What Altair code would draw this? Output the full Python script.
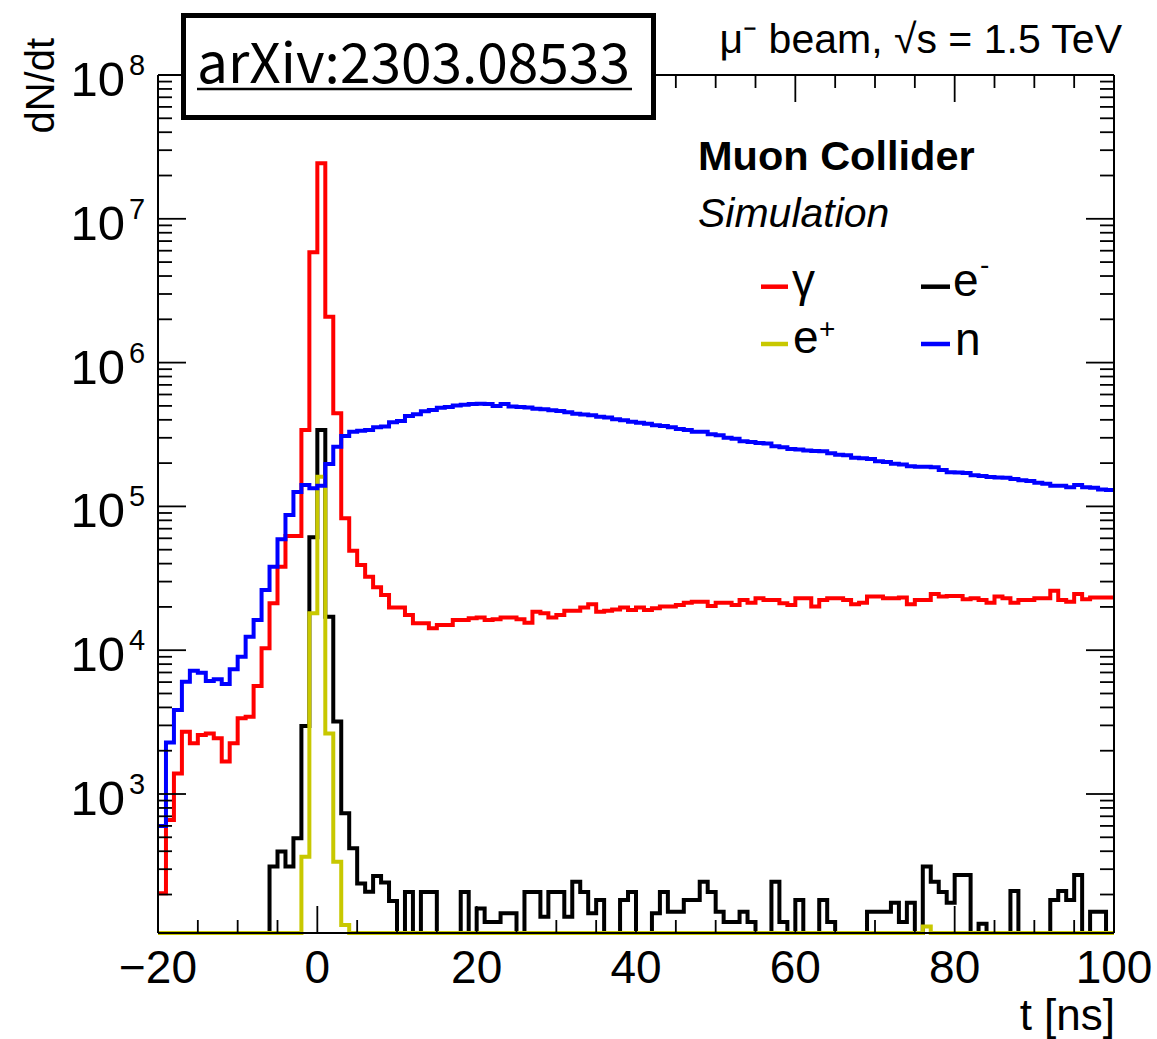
import altair as alt
import pandas as pd

# ---------------- data (bin left edges, 1 ns bins from -20 to 100) ----------------
T_EDGES = list(range(-20, 100))

GAMMA = [204, 659, 1390, 2710, 2250, 2570, 2640, 2440, 1680, 2250,
         3360, 3450, 5640, 10300, 21200, 38100, 62200, 62200, 340000, 5850000,
         24300000, 2080000, 444000, 82600, 49200, 39200, 32400, 27400, 24200, 19800,
         19800, 17600, 15400, 15400, 14200, 15000, 15000, 16200, 16200, 16700,
         16900, 16200, 16400, 16900, 16900, 16400, 15500, 18500, 18100, 16900,
         17600, 18800, 18800, 19800, 20900, 18500, 18800, 19200, 19800, 19000,
         19800, 19000, 19600, 20100, 20100, 20600, 21400, 21700, 21700, 20300,
         21400, 21400, 20600, 22300, 21400, 23000, 22300, 22300, 21200, 20600,
         23000, 23000, 20100, 22300, 23000, 23000, 22300, 20900, 21400, 23600,
         23600, 23000, 23000, 23300, 20900, 22300, 22300, 24600, 23600, 23800,
         23800, 22600, 23000, 22300, 21400, 23600, 23000, 21400, 22300, 22300,
         23000, 23000, 25900, 22300, 21700, 24600, 22600, 23300, 23300, 23300]

NEUTRON = [598, 2280, 3840, 6040, 7200, 6970, 6110, 6280, 5830, 7360,
           9010, 12400, 16200, 26200, 38100, 59000, 87000, 126000, 141000, 134000,
           139000, 197000, 260000, 309000, 330000, 336000, 340000, 355000, 360000, 385000,
           392000, 425000, 438000, 458000, 468000, 485000, 492000, 503000, 510000, 516000,
           518000, 516000, 499000, 516000, 496000, 492000, 488000, 478000, 474000, 466000,
           460000, 452000, 440000, 435000, 430000, 421000, 415000, 404000, 398000, 388000,
           382000, 375000, 366000, 362000, 355000, 345000, 340000, 330000, 330000, 318000,
           312000, 300000, 296000, 284000, 280000, 276000, 274000, 262000, 258000, 251000,
           249000, 245000, 243000, 242000, 234000, 229000, 227000, 218000, 216000, 214000,
           206000, 204000, 198000, 196000, 190000, 189000, 189000, 187000, 179000, 173000,
           172000, 171000, 165000, 163000, 160000, 159000, 158000, 155000, 152000, 150000,
           146000, 144000, 139000, 139000, 136000, 141000, 136000, 135000, 131000, 130000]

ELECTRON = ([0] * 14 +
            [313, 398, 313, 492, 2970, 61000, 340000, 17100, 3190, 735,
             419, 239, 209, 269, 242, 180] +
            [0, 208, 0, 208, 208, 0, 0, 0, 208, 0,
             160, 129, 129, 148, 148, 0, 208, 208, 140, 208,
             208, 140, 245, 208, 148, 183, 0, 0, 183, 208,
             0, 0, 148, 208, 152, 152, 183, 183, 245, 208,
             152, 129, 129, 152, 129, 0, 0, 245, 129, 0,
             183, 0, 0, 183, 129, 0, 0, 0, 0, 152,
             152, 152, 175, 129, 175, 0, 313, 245, 208, 175,
             273, 273, 0, 125, 0, 0, 0, 212, 0, 0,
             0, 0, 183, 212, 183, 273, 0, 152, 152, 0])

POSITRON = [0] * 18 + [366, 18100, 161000, 2640, 338, 123] + [0] * 72 + [120] + [0] * 23

assert len(GAMMA) == len(NEUTRON) == len(ELECTRON) == len(POSITRON) == 120

X_MAJOR = [-20, 0, 20, 40, 60, 80, 100]
X_LABELS = ["\u221220", "0", "20", "40", "60", "80", "100"]
X_MINOR = [t for t in range(-20, 101, 5) if t % 20 != 0]
Y_MAJOR = [1e3, 1e4, 1e5, 1e6, 1e7, 1e8]
Y_EXP = ["3", "4", "5", "6", "7", "8"]
Y_MINOR = [k * 10 ** n for n in range(2, 8) for k in range(2, 10) if k * 10 ** n >= 108]

# ---------------- geometry / style ----------------
W, H = 956, 858
YMIN, YMAX = 108, 1e8
FONT = "Liberation Sans"

xs = alt.Scale(domain=[-20, 100], nice=False, zero=False)
ys = alt.Scale(type="log", domain=[YMIN, YMAX], nice=False, clamp=True)
one = pd.DataFrame({"k": [0]})


def hist_df(vals):
    floor = YMIN * 0.5
    t = T_EDGES + [100]
    v = [max(x, floor) for x in vals] + [max(vals[-1], floor)]
    return pd.DataFrame({"t": t, "v": v, "i": list(range(len(t)))})


def hist(vals, color):
    return alt.Chart(hist_df(vals)).mark_line(
        interpolate="step-after", strokeWidth=4, color=color,
        strokeJoin="miter", strokeCap="butt"
    ).encode(
        x=alt.X("t:Q", scale=xs, axis=None),
        y=alt.Y("v:Q", scale=ys, axis=None),
        order=alt.Order("i:Q"),
    )


def frame_rule(x, x2, y, y2):
    return alt.Chart(one).mark_rule(color="black", strokeWidth=2).encode(
        x=alt.value(x), x2=alt.value(x2), y=alt.value(y), y2=alt.value(y2))


def xticks(vals, length):
    d = pd.DataFrame({"t": vals})
    bot = alt.Chart(d).mark_rule(color="black", strokeWidth=1.8).encode(
        x=alt.X("t:Q", scale=xs, axis=None), y=alt.value(H), y2=alt.value(H - length))
    top = alt.Chart(d).mark_rule(color="black", strokeWidth=1.8).encode(
        x=alt.X("t:Q", scale=xs, axis=None), y=alt.value(0), y2=alt.value(length))
    return [bot, top]


def yticks(vals, length):
    d = pd.DataFrame({"v": vals})
    left = alt.Chart(d).mark_rule(color="black", strokeWidth=1.8).encode(
        y=alt.Y("v:Q", scale=ys, axis=None), x=alt.value(0), x2=alt.value(length))
    right = alt.Chart(d).mark_rule(color="black", strokeWidth=1.8).encode(
        y=alt.Y("v:Q", scale=ys, axis=None), x=alt.value(W), x2=alt.value(W - length))
    return [left, right]


def txt(text, x, y, size, align="left", font=FONT, weight="normal", style="normal", angle=0):
    return alt.Chart(one).mark_text(
        text=text, align=align, baseline="alphabetic", fontSize=size, font=font,
        fontWeight=weight, fontStyle=style, angle=angle, color="black"
    ).encode(x=alt.value(x), y=alt.value(y))


def leg_line(x, x2, y, color):
    return alt.Chart(one).mark_rule(color=color, strokeWidth=4.5).encode(
        x=alt.value(x), x2=alt.value(x2), y=alt.value(y))


layers = []
# histograms
layers += [hist(GAMMA, "#ff0000"), hist(ELECTRON, "#000000"),
           hist(POSITRON, "#c8c800"), hist(NEUTRON, "#0000ff")]
# frame
layers += [frame_rule(0, W, 0, 0), frame_rule(0, W, H, H),
           frame_rule(0, 0, 0, H), frame_rule(W, W, 0, H)]
# ticks
layers += xticks(X_MAJOR, 27) + xticks(X_MINOR, 13)
layers += yticks(Y_MAJOR, 28) + yticks(Y_MINOR, 14)

# x tick labels
xlab = pd.DataFrame({"t": X_MAJOR, "lab": X_LABELS})
layers.append(alt.Chart(xlab).mark_text(
    align="center", baseline="alphabetic", fontSize=46, font=FONT, color="black"
).encode(x=alt.X("t:Q", scale=xs, axis=None), y=alt.value(H + 50), text="lab:N"))

# y tick labels: "10" plus exponent
ylab = pd.DataFrame({"v": Y_MAJOR, "e": Y_EXP})
layers.append(alt.Chart(ylab).mark_text(
    text="10", align="right", baseline="alphabetic", fontSize=49, font=FONT, dy=21, color="black"
).encode(x=alt.value(-33), y=alt.Y("v:Q", scale=ys, axis=None)))
layers.append(alt.Chart(ylab).mark_text(
    align="left", baseline="alphabetic", fontSize=29, font=FONT, dy=0, color="black"
).encode(x=alt.value(-29), y=alt.Y("v:Q", scale=ys, axis=None), text="e:N"))

# axis titles
layers.append(txt("dN/dt", -104, -37, 40, align="right", angle=270))
layers.append(txt("t [ns]", 957, 955, 44, align="right"))

# arXiv box
layers.append(alt.Chart(one).mark_rect(fill="white", stroke="black", strokeWidth=5).encode(
    x=alt.value(25.5), x2=alt.value(495.5), y=alt.value(-59.5), y2=alt.value(42.5)))
layers.append(txt("arXiv:2303.08533", 39, 8, 55, font="Noto Sans CJK JP"))
layers.append(alt.Chart(one).mark_rule(color="black", strokeWidth=2.5).encode(
    x=alt.value(39), x2=alt.value(474), y=alt.value(14)))

# header text
layers.append(txt("\u03bc\u207b beam, \u221as = 1.5 TeV", 964, -22, 41, align="right"))
layers.append(txt("Muon Collider", 540, 95, 41.5, weight="bold"))
layers.append(txt("Simulation", 540, 152, 41, style="italic"))

# legend
layers.append(leg_line(603, 630, 211.7, "#ff0000"))
layers.append(txt("\u03b3", 634, 221, 46))
layers.append(leg_line(763, 792, 211.7, "#000000"))
layers.append(txt("e", 795, 221, 46))
layers.append(txt("-", 822, 199, 28))
layers.append(leg_line(603, 630, 269, "#c8c800"))
layers.append(txt("e", 635, 278, 46))
layers.append(txt("+", 661, 263, 28))
layers.append(leg_line(763, 792, 269, "#0000ff"))
layers.append(txt("n", 797, 280, 46))

chart = alt.layer(*layers).properties(
    width=W, height=H,
    padding={"left": 158, "top": 75, "right": 43, "bottom": 106},
    autosize=alt.AutoSizeParams(type="none"),
    background="white",
).configure_view(stroke=None)

chart.save("out.html", embed_options={"renderer": "svg", "actions": False})
